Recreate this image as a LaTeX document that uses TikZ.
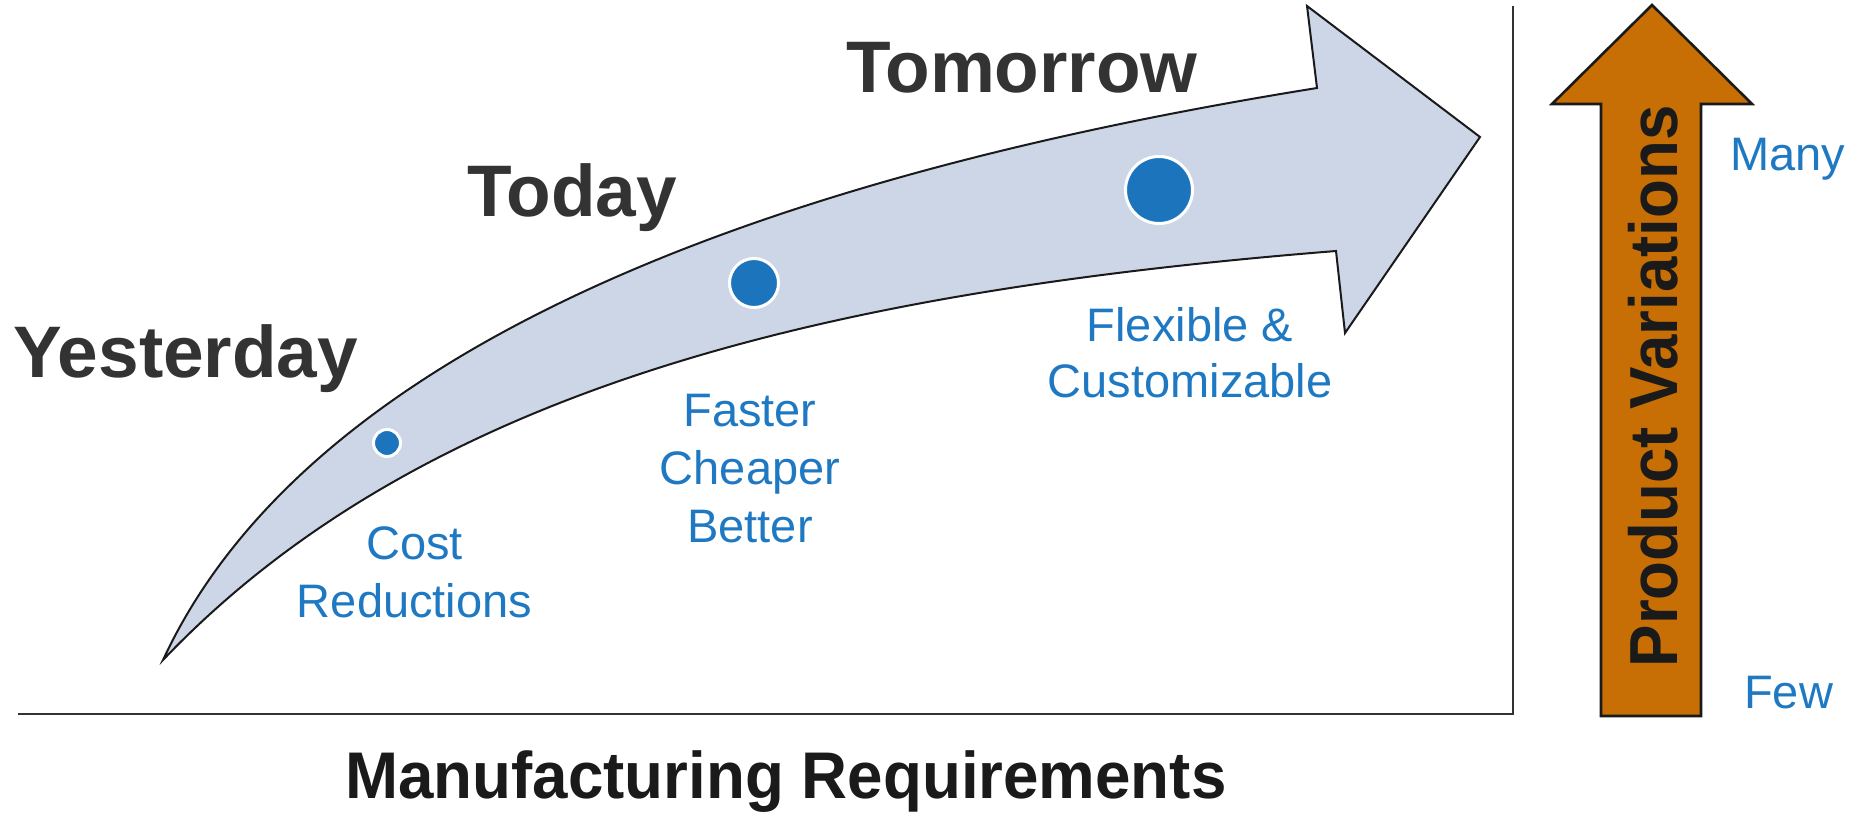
\documentclass[tikz,border=0pt]{standalone}
\usepackage{fontspec}
\setmainfont{Liberation Sans}
\definecolor{arrowfill}{HTML}{CDD6E7}
\definecolor{dotblue}{HTML}{1C75BC}
\definecolor{txtblue}{HTML}{1E78C2}
\definecolor{darkgray}{HTML}{333333}
\definecolor{nearblack}{HTML}{1A1A1A}
\definecolor{orangearrow}{HTML}{C76E04}
\tikzset{
  bigarrow/.style={fill=arrowfill, draw=nearblack, line width=2},
  uparrow/.style={fill=orangearrow, draw=nearblack, line width=2.6},
  axisline/.style={draw=darkgray, line width=2},
  era/.style={inner sep=0, text=darkgray, font=\fontsize{73}{88}\selectfont\bfseries},
  bluelabel/.style={inner sep=0, text=txtblue, align=center, font=\fontsize{47}{58}\selectfont},
  dot/.style={circle, fill=dotblue, draw=white, line width=3, inner sep=0},
  axistitle/.style={inner sep=0, text=nearblack, font=\fontsize{68}{80}\selectfont\bfseries}
}
\begin{document}
\begin{tikzpicture}[x=1pt, y=-1pt]
\useasboundingbox (0,0) rectangle (1851,813);
% axes
\coordinate (xstart) at (18,714);
\coordinate (corner) at (1513,714);
\coordinate (ytop) at (1513,6);
\draw[axisline] (xstart) -- (corner) -- (ytop);
% big curved arrow
\coordinate (tail) at (163,660);
\coordinate (ushaft) at (1317,88);
\coordinate (ubarb) at (1307,6);
\coordinate (tip) at (1480,137);
\coordinate (lbarb) at (1345,333);
\coordinate (lshaft) at (1336,251);
\draw[bigarrow, line join=miter] (tail) .. controls (330,300) and (900,155) .. (ushaft) -- (ubarb) -- (tip) -- (lbarb) -- (lshaft) .. controls (850,290) and (430,380) .. (tail) -- cycle;
% dots
\node[dot, minimum size=27] (d1) at (387,443) {};
\node[dot, minimum size=49] (d2) at (754,283) {};
\node[dot, minimum size=67] (d3) at (1159,190) {};
% era labels
\node[era, anchor=base west] (yesterday) at (13,377) {Yesterday};
\node[era, anchor=base west] (today) at (467,216) {Today};
\node[era, anchor=base west] (tomorrow) at (846,93) {Tomorrow};
% blue labels (base anchor = baseline of the last line)
\node[bluelabel, anchor=base] (cost) at (414.5,617) {Cost\\Reductions};
\node[bluelabel, anchor=base] (faster) at (750,542) {Faster\\Cheaper\\Better};
\node[bluelabel, anchor=base, font=\fontsize{47}{56}\selectfont] (flex) at (1190,397) {Flexible \&\\Customizable};
\node[bluelabel, anchor=base west] (many) at (1730,171) {Many};
\node[bluelabel, anchor=base west] (few) at (1744,708) {Few};
% axis title
\node[axistitle, anchor=base, font=\fontsize{66}{78}\selectfont\bfseries] (mfg) at (786,798) {\scalebox{0.965}[1]{Manufacturing Requirements}};
% orange arrow
\coordinate (otip) at (1652,5);
\coordinate (ohl) at (1552,104);
\coordinate (osl) at (1601,104);
\coordinate (obl) at (1601,716);
\coordinate (obr) at (1701,716);
\coordinate (osr) at (1701,104);
\coordinate (ohr) at (1752,104);
\draw[uparrow] (otip) -- (ohl) -- (osl) -- (obl) -- (obr) -- (osr) -- (ohr) -- cycle;
\node[axistitle, anchor=base, rotate=90] (pv) at (1677,386.5) {\scalebox{0.935}[1]{Product Variations}};
\end{tikzpicture}
\end{document}
